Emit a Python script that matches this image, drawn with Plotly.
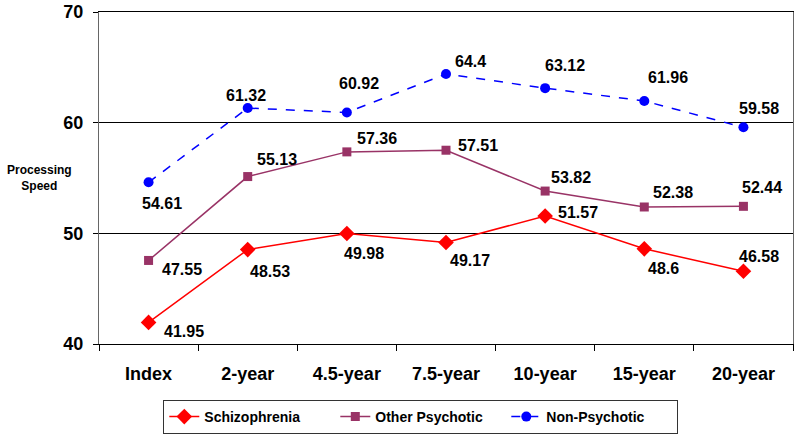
import plotly.graph_objects as go

categories = ["Index", "2-year", "4.5-year", "7.5-year", "10-year", "15-year", "20-year"]
schizophrenia = [41.95, 48.53, 49.98, 49.17, 51.57, 48.6, 46.58]
other_psychotic = [47.55, 55.13, 57.36, 57.51, 53.82, 52.38, 52.44]
non_psychotic = [54.61, 61.32, 60.92, 64.4, 63.12, 61.96, 59.58]
y_ticks = [40, 50, 60, 70]

FONT = "Liberation Sans, Arial, sans-serif"
x_idx = list(range(len(categories)))

fig = go.Figure()
fig.add_trace(go.Scatter(
    x=x_idx, y=schizophrenia, name="Schizophrenia", mode="lines+markers",
    line=dict(color="#FF0000", width=1.5),
    marker=dict(symbol="diamond", size=12, color="#FF0000")))
fig.add_trace(go.Scatter(
    x=x_idx, y=other_psychotic, name="Other Psychotic", mode="lines+markers",
    line=dict(color="#993366", width=1.5),
    marker=dict(symbol="square", size=9, color="#993366")))
fig.add_trace(go.Scatter(
    x=x_idx, y=non_psychotic, name="Non-Psychotic", mode="lines+markers",
    line=dict(color="#0000FF", width=1.5, dash="dash"),
    marker=dict(symbol="circle", size=10, color="#0000FF")))

annotations = []
def lab(xs, ys, offsets):
    for x, y, (dx, dy) in zip(xs, ys, offsets):
        annotations.append(dict(x=x, y=y, xref="x", yref="y", text=str(y),
                                showarrow=False, xanchor="center", yanchor="middle",
                                xshift=dx, yshift=dy,
                                font=dict(family=FONT, size=16, color="black", weight="bold")))

lab(x_idx, schizophrenia, [(35, -9), (22, -22), (17, -20), (24, -18), (33, 3), (19, -20), (16, 15)])
lab(x_idx, other_psychotic, [(33, -9), (29, 17), (30, 13), (32, 5), (26, 14), (29, 14), (19, 19)])
lab(x_idx, non_psychotic, [(13, -21), (-2, 13), (12, 29), (24, 12), (20, 23), (24, 23), (16, 19)])

annotations.append(dict(xref="paper", yref="paper", x=-0.0857, y=0.5,
                        text="Processing<br>Speed", showarrow=False,
                        xanchor="center", yanchor="middle", align="center",
                        font=dict(family=FONT, size=12, color="black", weight="bold")))

fig.update_layout(
    width=800, height=435,
    margin=dict(l=99, r=7, t=12, b=91, autoexpand=False),
    plot_bgcolor="white", paper_bgcolor="white",
    font=dict(family=FONT, color="black"),
    showlegend=True,
    legend=dict(orientation="h", xref="container", yref="container",
                x=0.526, xanchor="center", y=1 - 400 / 435, yanchor="top",
                bordercolor="#333333", borderwidth=1, bgcolor="white",
                font=dict(family=FONT, size=14, color="black", weight="bold"),
                entrywidthmode="pixels", entrywidth=126, tracegroupgap=0),
    annotations=annotations,
)
fig.update_xaxes(
    range=[-0.5, len(categories) - 0.5], tickmode="array", tickvals=x_idx, ticktext=categories,
    showgrid=False, zeroline=False, showline=True, linecolor="black", linewidth=1,
    mirror=True, ticks="", ticklabelstandoff=13,
    tickfont=dict(family=FONT, size=18, color="black", weight="bold"),
    minor=dict(ticks="outside", tickvals=[i - 0.5 for i in range(len(categories) + 1)],
               ticklen=6, tickcolor="black", showgrid=False),
)
fig.update_yaxes(
    range=[40, 70], tickvals=y_ticks, showgrid=True, gridcolor="black", gridwidth=1,
    zeroline=False, showline=True, linecolor="#666666", linewidth=1, mirror=True,
    ticks="outside", ticklen=5, tickcolor="black", ticklabelstandoff=6,
    tickfont=dict(family=FONT, size=18, color="black", weight="bold"),
)

fig.write_html("out.html", config={"displayModeBar": False},
               post_script="document.body.style.margin='0';document.body.style.overflow='hidden';")
